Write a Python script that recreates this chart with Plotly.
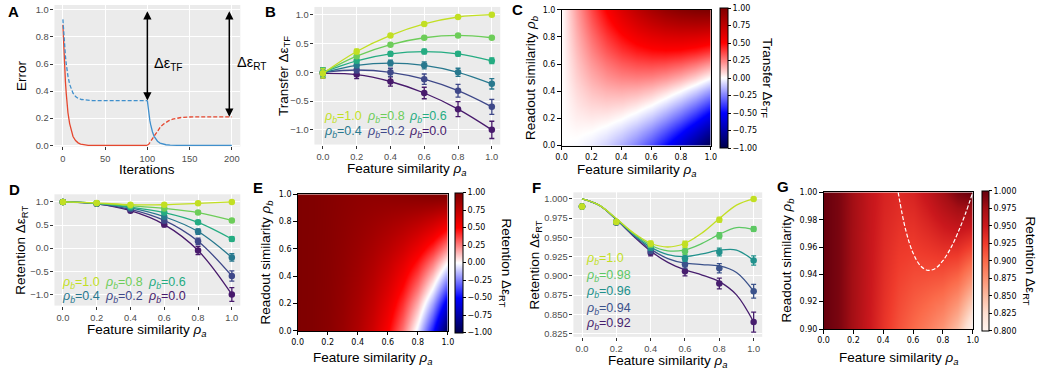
import plotly.graph_objects as go

W, H = 1047, 375
SANS = "Liberation Sans, Arial, sans-serif"
MPLF = "DejaVu Sans, sans-serif"

# ---------------- data ----------------
# Panel A: error during sequential training
iters_red_solid = [0, 1, 2, 3, 4, 5, 6, 8, 10, 12, 15, 18, 21, 25, 30, 100]
err_red_solid = [0.89, 0.72, 0.58, 0.47, 0.38, 0.30, 0.24, 0.16, 0.10, 0.065, 0.035, 0.018, 0.009, 0.004, 0.0, 0.0]
iters_blue_dash = [0, 1, 2, 3, 4, 5, 6, 8, 10, 12, 15, 18, 22, 27, 35, 100]
err_blue_dash = [0.93, 0.82, 0.73, 0.66, 0.60, 0.55, 0.51, 0.45, 0.41, 0.385, 0.36, 0.347, 0.338, 0.333, 0.33, 0.33]
iters_blue_solid = [100, 101, 102, 103, 104, 105, 106, 108, 110, 112, 115, 118, 122, 127, 135, 200]
err_blue_solid = [0.33, 0.27, 0.22, 0.18, 0.15, 0.12, 0.10, 0.066, 0.045, 0.03, 0.016, 0.009, 0.004, 0.001, 0.0, 0.0]
iters_red_dash = [100, 102, 104, 106, 108, 110, 113, 116, 120, 125, 130, 135, 140, 150, 160, 200]
err_red_dash = [0.0, 0.01, 0.03, 0.05, 0.07, 0.09, 0.115, 0.14, 0.16, 0.18, 0.193, 0.2, 0.205, 0.209, 0.21, 0.21]
arrow_tf = [100, 0.33, 1.0]   # iteration, bottom, top
arrow_rt = [197, 0.21, 1.0]
a_xticks = [0, 50, 100, 150, 200]
a_yticks = [0.0, 0.2, 0.4, 0.6, 0.8, 1.0]

# common x for B, D, F
rho_a = [0.0, 0.2, 0.4, 0.6, 0.8, 1.0]
sim_ticks = [0.0, 0.2, 0.4, 0.6, 0.8, 1.0]
pm_ticks = [-1.0, -0.5, 0.0, 0.5, 1.0]

# Panel B: transfer
rho_b_labels = ["1.0", "0.8", "0.6", "0.4", "0.2", "0.0"]
tf_b10 = [-0.02, 0.36, 0.64, 0.84, 0.96, 1.00]
tf_b08 = [-0.01, 0.28, 0.48, 0.60, 0.64, 0.60]
tf_b06 = [0.00, 0.20, 0.32, 0.36, 0.32, 0.20]
tf_b04 = [-0.01, 0.12, 0.16, 0.12, 0.00, -0.20]
tf_b02 = [0.00, 0.04, 0.00, -0.12, -0.32, -0.60]
tf_b00 = [-0.02, -0.04, -0.16, -0.36, -0.64, -1.00]
tf_err_b10 = [0.08, 0.04, 0.02, 0.02, 0.01, 0.01]
tf_err_b08 = [0.08, 0.03, 0.03, 0.02, 0.02, 0.02]
tf_err_b06 = [0.08, 0.03, 0.04, 0.04, 0.04, 0.05]
tf_err_b04 = [0.08, 0.04, 0.05, 0.06, 0.07, 0.09]
tf_err_b02 = [0.08, 0.05, 0.07, 0.09, 0.11, 0.13]
tf_err_b00 = [0.08, 0.07, 0.08, 0.10, 0.13, 0.15]

# Panel D: retention
rt_b10 = [1.00, 0.98, 0.94, 0.94, 0.97, 1.00]
rt_b08 = [1.00, 0.97, 0.92, 0.86, 0.77, 0.60]
rt_b06 = [1.00, 0.97, 0.89, 0.77, 0.56, 0.20]
rt_b04 = [1.00, 0.97, 0.87, 0.68, 0.36, -0.20]
rt_b02 = [1.00, 0.96, 0.84, 0.60, 0.15, -0.60]
rt_b00 = [1.00, 0.96, 0.81, 0.51, -0.05, -1.00]
rt_err_b10 = [0.01, 0.01, 0.01, 0.01, 0.01, 0.01]
rt_err_b08 = [0.01, 0.01, 0.02, 0.02, 0.03, 0.03]
rt_err_b06 = [0.01, 0.01, 0.02, 0.03, 0.04, 0.05]
rt_err_b04 = [0.01, 0.02, 0.03, 0.04, 0.06, 0.08]
rt_err_b02 = [0.01, 0.02, 0.03, 0.05, 0.07, 0.11]
rt_err_b00 = [0.01, 0.02, 0.03, 0.05, 0.09, 0.15]

# Panel F: retention near rho_b = 1
f_labels = ["1.0", "0.98", "0.96", "0.94", "0.92"]
f_b100 = [0.990, 0.970, 0.942, 0.941, 0.973, 1.000]
f_b098 = [0.990, 0.970, 0.940, 0.932, 0.952, 0.961]
f_b096 = [0.990, 0.970, 0.937, 0.923, 0.931, 0.920]
f_b094 = [0.990, 0.969, 0.933, 0.915, 0.910, 0.880]
f_b092 = [0.990, 0.970, 0.930, 0.906, 0.890, 0.840]
f_err_b100 = [0.002, 0.002, 0.003, 0.004, 0.003, 0.001]
f_err_b098 = [0.002, 0.002, 0.003, 0.004, 0.004, 0.003]
f_err_b096 = [0.002, 0.002, 0.004, 0.004, 0.005, 0.006]
f_err_b094 = [0.002, 0.002, 0.004, 0.005, 0.006, 0.009]
f_err_b092 = [0.002, 0.002, 0.004, 0.006, 0.007, 0.013]
fit_a = [0.0, 0.1, 0.2, 0.3, 0.4, 0.5, 0.6, 0.7, 0.8, 0.9, 1.0]
fit_b100 = [1.0, 0.9919, 0.9744, 0.9559, 0.9424, 0.9375, 0.9424, 0.9559, 0.9744, 0.9919, 1.0]
fit_b098 = [1.0, 0.9919, 0.9741, 0.9548, 0.9398, 0.9325, 0.9338, 0.9422, 0.9539, 0.9627, 0.96]
fit_b096 = [1.0, 0.9918, 0.9738, 0.9537, 0.9373, 0.9275, 0.9251, 0.9285, 0.9334, 0.9336, 0.92]
fit_b094 = [1.0, 0.9918, 0.9734, 0.9527, 0.9347, 0.9225, 0.9165, 0.9147, 0.9130, 0.9044, 0.88]
fit_b092 = [1.0, 0.9917, 0.9731, 0.9516, 0.9322, 0.9175, 0.9078, 0.9010, 0.8925, 0.8753, 0.84]
f_yticks = [0.825, 0.85, 0.875, 0.9, 0.925, 0.95, 0.975, 1.0]

# Heatmaps (rows: readout similarity, cols: feature similarity)
grid_a = [0.0, 0.1, 0.2, 0.3, 0.4, 0.5, 0.6, 0.7, 0.8, 0.9, 1.0]
grid_b = [0.0, 0.1, 0.2, 0.3, 0.4, 0.5, 0.6, 0.7, 0.8, 0.9, 1.0]
transfer_grid = [
    [0, -0.01, -0.04, -0.09, -0.16, -0.25, -0.36, -0.49, -0.64, -0.81, -1.00],
    [0, 0.01, 0.00, -0.03, -0.08, -0.15, -0.24, -0.35, -0.48, -0.63, -0.80],
    [0, 0.03, 0.04, 0.03, 0.00, -0.05, -0.12, -0.21, -0.32, -0.45, -0.60],
    [0, 0.05, 0.08, 0.09, 0.08, 0.05, 0.00, -0.07, -0.16, -0.27, -0.40],
    [0, 0.07, 0.12, 0.15, 0.16, 0.15, 0.12, 0.07, 0.00, -0.09, -0.20],
    [0, 0.09, 0.16, 0.21, 0.24, 0.25, 0.24, 0.21, 0.16, 0.09, 0.00],
    [0, 0.11, 0.20, 0.27, 0.32, 0.35, 0.36, 0.35, 0.32, 0.27, 0.20],
    [0, 0.13, 0.24, 0.33, 0.40, 0.45, 0.48, 0.49, 0.48, 0.45, 0.40],
    [0, 0.15, 0.28, 0.39, 0.48, 0.55, 0.60, 0.63, 0.64, 0.63, 0.60],
    [0, 0.17, 0.32, 0.45, 0.56, 0.65, 0.72, 0.77, 0.80, 0.81, 0.80],
    [0, 0.19, 0.36, 0.51, 0.64, 0.75, 0.84, 0.91, 0.96, 0.99, 1.00],
]
retention_grid = [
    [1, 0.990, 0.958, 0.902, 0.814, 0.688, 0.510, 0.270, -0.050, -0.466, -1.0],
    [1, 0.990, 0.960, 0.907, 0.827, 0.713, 0.554, 0.339, 0.053, -0.320, -0.8],
    [1, 0.990, 0.962, 0.913, 0.840, 0.738, 0.597, 0.407, 0.155, -0.175, -0.6],
    [1, 0.991, 0.963, 0.918, 0.853, 0.763, 0.640, 0.476, 0.258, -0.029, -0.4],
    [1, 0.991, 0.965, 0.924, 0.866, 0.788, 0.683, 0.544, 0.360, 0.117, -0.2],
    [1, 0.991, 0.966, 0.929, 0.878, 0.813, 0.726, 0.613, 0.462, 0.263, 0.0],
    [1, 0.991, 0.968, 0.934, 0.891, 0.838, 0.770, 0.682, 0.565, 0.409, 0.2],
    [1, 0.991, 0.970, 0.940, 0.904, 0.863, 0.813, 0.750, 0.667, 0.555, 0.4],
    [1, 0.992, 0.971, 0.945, 0.917, 0.888, 0.856, 0.819, 0.770, 0.700, 0.6],
    [1, 0.992, 0.973, 0.951, 0.930, 0.913, 0.899, 0.887, 0.872, 0.846, 0.8],
    [1, 0.992, 0.974, 0.956, 0.942, 0.938, 0.942, 0.956, 0.974, 0.992, 1.0],
]
grid_b_zoom = [0.90, 0.92, 0.94, 0.96, 0.98, 1.00]
retention_zoom_grid = [
    [1.0, 0.9917, 0.9728, 0.9505, 0.9296, 0.9125, 0.8992, 0.8873, 0.8720, 0.8461, 0.8000],
    [1.0, 0.9917, 0.9731, 0.9516, 0.9322, 0.9175, 0.9078, 0.9010, 0.8925, 0.8753, 0.8400],
    [1.0, 0.9918, 0.9734, 0.9527, 0.9347, 0.9225, 0.9165, 0.9147, 0.9130, 0.9044, 0.8800],
    [1.0, 0.9918, 0.9738, 0.9537, 0.9373, 0.9275, 0.9251, 0.9285, 0.9334, 0.9336, 0.9200],
    [1.0, 0.9919, 0.9741, 0.9548, 0.9398, 0.9325, 0.9338, 0.9422, 0.9539, 0.9627, 0.9600],
    [1.0, 0.9919, 0.9744, 0.9559, 0.9424, 0.9375, 0.9424, 0.9559, 0.9744, 0.9919, 1.0000],
]
# dashed boundary in G
bound_a = [0.50, 0.55, 0.60, 0.65, 0.70, 0.75, 0.80, 0.85, 0.90, 0.95, 1.00]
bound_b = [1.0, 0.9727, 0.9556, 0.9462, 0.9429, 0.9444, 0.95, 0.9588, 0.9704, 0.9842, 1.0]
g_yticks = [0.90, 0.92, 0.94, 0.96, 0.98, 1.00]
cb_pm_ticks = [-1.0, -0.75, -0.5, -0.25, 0.0, 0.25, 0.5, 0.75, 1.0]
cb_g_ticks = [0.8, 0.825, 0.85, 0.875, 0.9, 0.925, 0.95, 0.975, 1.0]

# ---------------- styles ----------------
RED = "#E5472F"
BLUE = "#3F8FCC"
VIR6 = ["#C2DF23", "#6DCD59", "#25AC82", "#28788E", "#3F4889", "#481A6C"]
VIR5 = ["#C2DF23", "#5DC863", "#21918C", "#3B528B", "#471E6E"]
SEISMIC = [[0.0, "rgb(0,0,76)"], [0.25, "rgb(0,0,255)"], [0.5, "rgb(255,255,255)"],
           [0.75, "rgb(255,0,0)"], [1.0, "rgb(127,0,0)"]]
REDS = [[0.0, "#fff5f0"], [0.125, "#fee0d2"], [0.25, "#fcbba1"], [0.375, "#fc9272"],
        [0.5, "#fb6a4a"], [0.625, "#ef3b2c"], [0.75, "#cb181d"], [0.875, "#a50f15"], [1.0, "#67000d"]]


def X(p):
    return p / W


def Y(p):
    return 1 - p / H


boxes = {
    1: (49, 237, 1, 146),     # A
    2: (312, 500, 3, 144),    # B
    3: (562, 713, 6, 145),    # C
    4: (49, 237, 195, 309),   # D
    5: (295, 447, 195, 335),  # E
    6: (574, 765, 193, 341),  # F
    7: (827, 978, 193, 333),  # G
}


def ax_names(n):
    return ("x" if n == 1 else f"x{n}", "y" if n == 1 else f"y{n}")


gg = dict(showgrid=True, gridcolor="white", gridwidth=1.1, zeroline=False, showline=False,
          ticks="outside", ticklen=3, tickwidth=1, tickcolor="#333333",
          tickfont=dict(family=SANS, size=9.3, color="#4D4D4D"))
mp = dict(showgrid=False, zeroline=False, showline=True, linecolor="black", linewidth=1,
          mirror=True, ticks="outside", ticklen=3.5, tickwidth=0.8, tickcolor="black",
          tickfont=dict(family=MPLF, size=8, color="black"))

fig = go.Figure()
layout = dict(width=W, height=H, margin=dict(l=0, r=0, t=0, b=0),
              paper_bgcolor="white", plot_bgcolor="#EBEBEB", showlegend=False)


def set_axes(n, style, xr, yr, xt, yt, xf, yf):
    x0, x1, y0, y1 = boxes[n]
    xn, yn = ax_names(n)
    xa = dict(style, domain=[X(x0), X(x1)], anchor=yn, range=xr, tickvals=xt, tickformat=xf)
    ya = dict(style, domain=[Y(y1), Y(y0)], anchor=xn, range=yr, tickvals=yt, tickformat=yf)
    layout["xaxis" if n == 1 else f"xaxis{n}"] = xa
    layout["yaxis" if n == 1 else f"yaxis{n}"] = ya


set_axes(1, gg, [-10, 210], [-0.009, 1.036], a_xticks, a_yticks, "d", ".1f")
set_axes(2, gg, [-0.05, 1.05], [-1.255, 1.135], sim_ticks, pm_ticks, ".1f", ".1f")
set_axes(3, mp, [0, 1], [0, 1], sim_ticks, sim_ticks, ".1f", ".1f")
set_axes(4, gg, [-0.05, 1.05], [-1.24, 1.165], sim_ticks, pm_ticks, ".1f", ".1f")
set_axes(5, mp, [0, 1], [0, 1], sim_ticks, sim_ticks, ".1f", ".1f")
set_axes(6, gg, [-0.05, 1.05], [0.8208, 1.0085], sim_ticks, f_yticks, ".1f", ".3f")
set_axes(7, mp, [0, 1], [0.9, 1.0], sim_ticks, g_yticks, ".1f", ".2f")

# ---- Panel A ----
for xs, ys, col, dash in [(iters_red_solid, err_red_solid, RED, "solid"),
                          (iters_blue_dash, err_blue_dash, BLUE, "4px,2px"),
                          (iters_blue_solid, err_blue_solid, BLUE, "solid"),
                          (iters_red_dash, err_red_dash, RED, "4px,2px")]:
    fig.add_trace(go.Scatter(x=xs, y=ys, mode="lines", line=dict(color=col, width=1.3, dash=dash),
                             xaxis="x", yaxis="y", hoverinfo="skip"))


def add_series(n, xs, ys, errs, col, fit_x=None, fit_y=None):
    xn, yn = ax_names(n)
    lx = fit_x if fit_x is not None else xs
    ly = fit_y if fit_y is not None else ys
    fig.add_trace(go.Scatter(x=lx, y=ly, mode="lines", line=dict(color=col, width=1.3, shape="spline"),
                             xaxis=xn, yaxis=yn, hoverinfo="skip"))
    fig.add_trace(go.Scatter(x=xs, y=ys, mode="markers", marker=dict(size=6.5, color=col),
                             error_y=dict(type="data", array=errs, thickness=1.3, width=2.5, color=col),
                             xaxis=xn, yaxis=yn, hoverinfo="skip"))


tf_series = [tf_b10, tf_b08, tf_b06, tf_b04, tf_b02, tf_b00]
tf_errs = [tf_err_b10, tf_err_b08, tf_err_b06, tf_err_b04, tf_err_b02, tf_err_b00]
rt_series = [rt_b10, rt_b08, rt_b06, rt_b04, rt_b02, rt_b00]
rt_errs = [rt_err_b10, rt_err_b08, rt_err_b06, rt_err_b04, rt_err_b02, rt_err_b00]
for i in reversed(range(6)):
    add_series(2, rho_a, tf_series[i], tf_errs[i], VIR6[i])
for i in reversed(range(6)):
    add_series(4, rho_a, rt_series[i], rt_errs[i], VIR6[i])

f_series = [f_b100, f_b098, f_b096, f_b094, f_b092]
f_errs = [f_err_b100, f_err_b098, f_err_b096, f_err_b094, f_err_b092]
f_fits = [fit_b100, fit_b098, fit_b096, fit_b094, fit_b092]
for i in reversed(range(5)):
    add_series(6, rho_a, f_series[i], f_errs[i], VIR5[i], fit_a, f_fits[i])


def cbar(x_left, yc, ticks, fmt, thick):
    return dict(x=X(x_left), xanchor="left", y=Y(yc), yanchor="middle", len=140, lenmode="pixels",
                thickness=thick, thicknessmode="pixels", xpad=0, ypad=0, outlinewidth=1,
                outlinecolor="black", ticks="outside", ticklen=3, tickwidth=0.8, tickcolor="black",
                tickvals=ticks, tickformat=fmt, tickfont=dict(family=MPLF, size=8, color="black"))


fig.add_trace(go.Heatmap(x=grid_a, y=grid_b, z=transfer_grid, colorscale=SEISMIC, zmin=-1, zmax=1,
                         zsmooth="best", xaxis="x3", yaxis="y3", hoverinfo="skip",
                         colorbar=cbar(722, 76, cb_pm_ticks, ".2f", 8)))
fig.add_trace(go.Heatmap(x=grid_a, y=grid_b, z=retention_grid, colorscale=SEISMIC, zmin=-1, zmax=1,
                         zsmooth="best", xaxis="x5", yaxis="y5", hoverinfo="skip",
                         colorbar=cbar(454, 265, cb_pm_ticks, ".2f", 8)))
fig.add_trace(go.Heatmap(x=grid_a, y=grid_b_zoom, z=retention_zoom_grid, colorscale=REDS, zmin=0.8, zmax=1.0,
                         zsmooth="best", xaxis="x7", yaxis="y7", hoverinfo="skip",
                         colorbar=cbar(987, 263, cb_g_ticks, ".3f", 7)))
fig.add_trace(go.Scatter(x=bound_a, y=bound_b, mode="lines",
                         line=dict(color="white", width=1.2, dash="4px,2px", shape="spline"),
                         xaxis="x7", yaxis="y7", hoverinfo="skip"))

# ---------------- annotations ----------------
ann = []


def txt(x, y, s, size=13.5, angle=0, color="black", bold=False, xanchor="center", family=SANS):
    if bold:
        s = f"<b>{s}</b>"
    ann.append(dict(x=X(x), y=Y(y), xref="paper", yref="paper", text=s, showarrow=False,
                    textangle=angle, xanchor=xanchor, yanchor="middle",
                    font=dict(family=family, size=size, color=color)))


RA = "Feature similarity <i>ρ</i><sub><i>a</i></sub>"
RB = "Readout similarity <i>ρ</i><sub><i>b</i></sub>"
TF = "Transfer Δε<sub>TF</sub>"
RT = "Retention Δε<sub>RT</sub>"

# panel letters
for lab, (x, y) in zip("ABCDEFG", [(8, 8), (268, 8), (517, 6), (9, 190), (255, 188), (537, 188), (786, 187)]):
    txt(x, y, lab, size=15, bold=True)

# A
txt(15, 73, "Error", angle=-90)
txt(143, 170, "Iterations")
# B
txt(281, 74, TF, angle=-90)
txt(406, 170, RA)
# C
txt(531, 76, RB, angle=-90)
txt(638, 171, RA)
txt(770, 76, TF, angle=90)
# D
txt(16, 252, RT, angle=-90)
txt(143, 335, RA)
# E
txt(264, 265, RB, angle=-90)
txt(371, 363, RA)
txt(505, 265, RT, angle=90)
# F
txt(536, 267, RT, angle=-90)
txt(670, 366, RA)
# G
txt(791, 263, RB, angle=-90)
txt(903, 363, RA)
txt(1035, 263, RT, angle=90)

# legends
def leg(x, y, lab, col):
    txt(x, y, f"<i>ρ</i><sub><i>b</i></sub>={lab}", size=12.5, color=col, xanchor="left")


for i, (cx, ry) in enumerate([(320, 116), (363, 116), (406, 116), (320, 131), (363, 131), (406, 131)]):
    leg(cx, ry, rho_b_labels[i], VIR6[i])
for i, (cx, ry) in enumerate([(55, 286), (98, 286), (142, 286), (55, 300), (98, 300), (142, 300)]):
    leg(cx, ry, rho_b_labels[i], VIR6[i])
for i, ry in enumerate([261, 279, 295, 312, 328]):
    leg(585, ry, f_labels[i], VIR5[i])

# A arrows and labels
for xa, lo, hi in [arrow_tf, arrow_rt]:
    ann.append(dict(x=xa, y=lo, ax=xa, ay=hi, xref="x", yref="y", axref="x", ayref="y", text="",
                    showarrow=True, arrowhead=2, arrowside="end+start", arrowsize=1.1, arrowwidth=1.5,
                    arrowcolor="black", standoff=0, startstandoff=0))
ann.append(dict(x=105, y=0.60, xref="x", yref="y", text="Δε<sub>TF</sub>", showarrow=False,
                xanchor="left", yanchor="middle", font=dict(family=SANS, size=14.5, color="black")))
ann.append(dict(x=204, y=0.61, xref="x", yref="y", text="Δε<sub>RT</sub>", showarrow=False,
                xanchor="left", yanchor="middle", font=dict(family=SANS, size=14.5, color="black")))

layout["annotations"] = ann
fig.update_layout(**layout)
fig.write_html("out.html", config={"displayModeBar": False},
               post_script="document.body.style.margin='0px';")
